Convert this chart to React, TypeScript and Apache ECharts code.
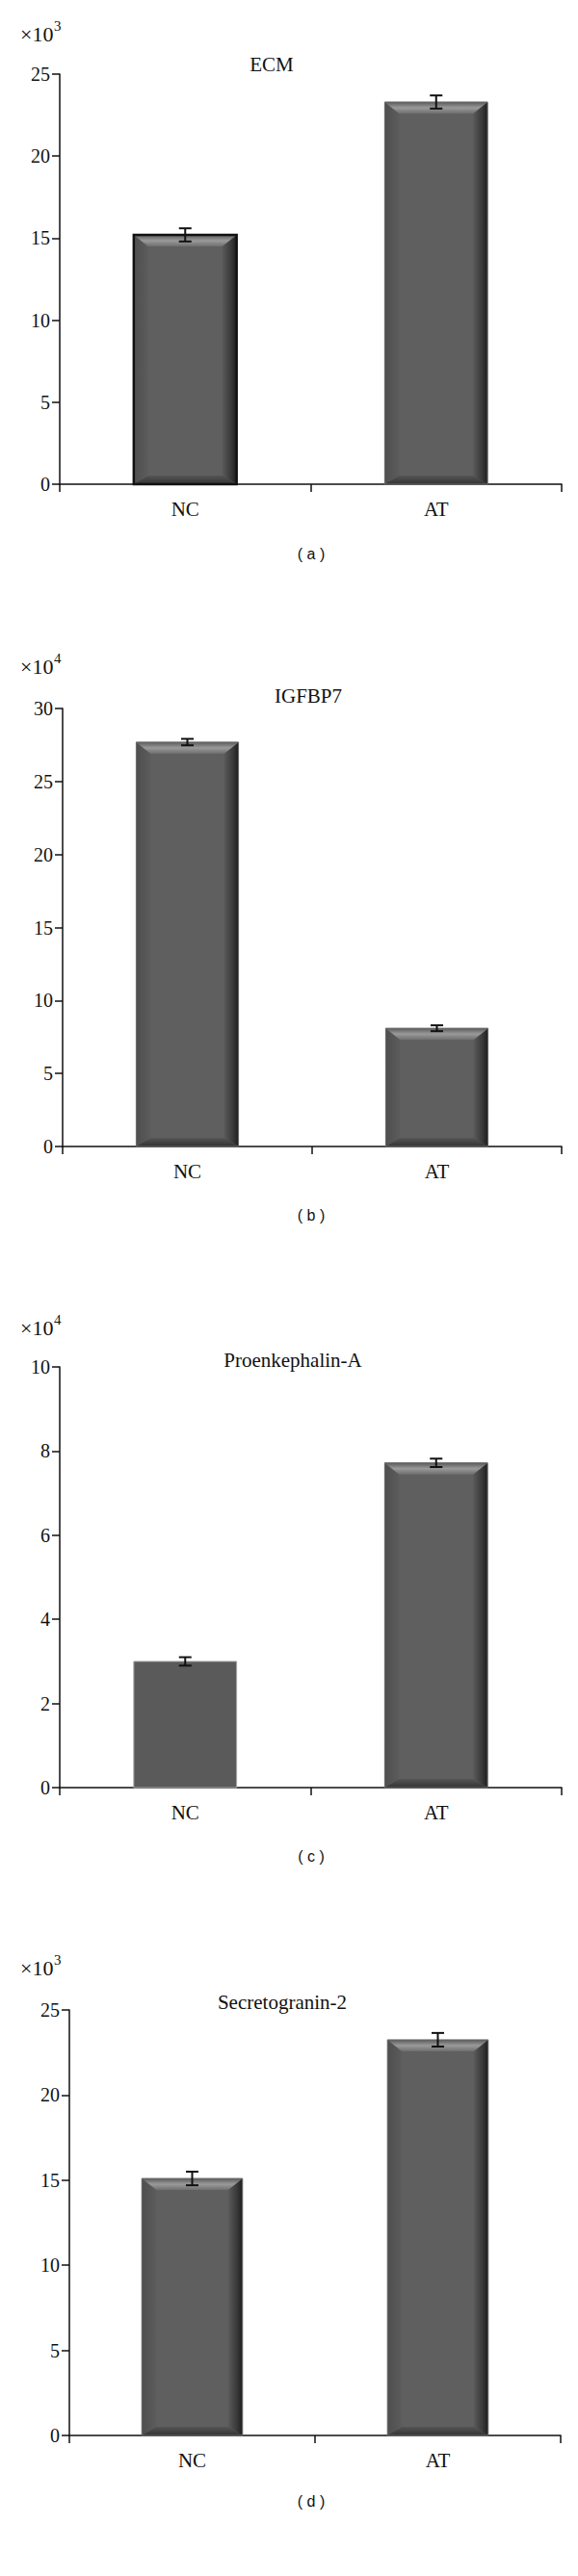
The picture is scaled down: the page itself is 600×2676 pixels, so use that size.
import React, { useEffect, useRef } from "react";
import * as echarts from "echarts";

const categories = ["NC", "AT"];

const ecmValues = [15.2, 23.3];
const ecmErrors = [0.4, 0.4];
const igfbp7Values = [27.7, 8.1];
const igfbp7Errors = [0.22, 0.2];
const penkValues = [3.0, 7.72];
const penkErrors = [0.1, 0.1];
const scg2Values = [15.1, 23.25];
const scg2Errors = [0.4, 0.4];

const titles = ["ECM", "IGFBP7", "Proenkephalin-A", "Secretogranin-2"];
const exponents = ["3", "4", "4", "3"];
const panelLetters = ["( a )", "( b )", "( c )", "( d )"];
const yMaxes = [25, 30, 10, 25];
const yIntervals = [5, 5, 2, 5];

// layout (px)
const grids = [
  { left: 62, top: 77, width: 521, height: 426 },
  { left: 65, top: 736, width: 518, height: 455 },
  { left: 62, top: 1420, width: 521, height: 437 },
  { left: 72, top: 2088, width: 510, height: 442 },
];
const titlePos = [
  [282, 67],
  [320, 723],
  [304, 1413],
  [293, 2080],
];
const expPos = [
  [21, 35],
  [21, 692],
  [21, 1379],
  [21, 2044],
];
const letterPos = [
  [323, 575],
  [323, 1262],
  [323, 1928],
  [323, 2598],
];
// bar style: "bevel-black" | "bevel" | "flat"
const barStyles = [
  ["bevel-black", "bevel"],
  ["bevel", "bevel"],
  ["flat", "bevel"],
  ["bevel", "bevel"],
];

const SERIF = "Liberation Serif";

const panels = [
  { values: ecmValues, errors: ecmErrors },
  { values: igfbp7Values, errors: igfbp7Errors },
  { values: penkValues, errors: penkErrors },
  { values: scg2Values, errors: scg2Errors },
];

function makeBarRenderer(styles: string[]) {
  return (params: any, api: any) => {
    const idx = api.value(0);
    const val = api.value(1);
    const top = api.coord([idx, val]);
    const base = api.coord([idx, 0]);
    const band = api.size([1, 0])[0];
    const w = band * 0.41;
    const x0 = top[0] - w / 2;
    const x1 = top[0] + w / 2;
    const y0 = top[1];
    const yb = base[1];
    const kind = styles[idx];
    if (kind === "flat") {
      return {
        type: "rect",
        shape: { x: x0, y: y0, width: w, height: yb - y0 },
        style: { fill: "#5a5a5a", stroke: "#a8a8a8", lineWidth: 1 },
      };
    }
    const inX = 15;
    const inTop = 12;
    const inBot = 9;
    const children: any[] = [
      {
        type: "rect",
        shape: { x: x0, y: y0, width: w, height: yb - y0 },
        style: { fill: "#5f5f5f" },
      },
      {
        type: "polygon",
        shape: {
          points: [
            [x0, y0],
            [x0 + inX, y0 + inTop],
            [x0 + inX, yb - inBot],
            [x0, yb],
          ],
        },
        style: {
          fill: new echarts.graphic.LinearGradient(0, 0, 1, 0, [
            { offset: 0, color: "#4e4e4e" },
            { offset: 1, color: "#5c5c5c" },
          ]),
        },
      },
      {
        type: "polygon",
        shape: {
          points: [
            [x1, y0],
            [x1 - inX, y0 + inTop],
            [x1 - inX, yb - inBot],
            [x1, yb],
          ],
        },
        style: {
          fill: new echarts.graphic.LinearGradient(0, 0, 1, 0, [
            { offset: 0, color: "#5a5a5a" },
            { offset: 0.6, color: "#3a3a3a" },
            { offset: 1, color: "#1e1e1e" },
          ]),
        },
      },
      {
        type: "polygon",
        shape: {
          points: [
            [x0, y0],
            [x1, y0],
            [x1 - inX, y0 + inTop],
            [x0 + inX, y0 + inTop],
          ],
        },
        style: {
          fill: new echarts.graphic.LinearGradient(0, 0, 0, 1, [
            { offset: 0, color: "#5a5a5a" },
            { offset: 0.5, color: "#9a9a9a" },
            { offset: 1, color: "#6e6e6e" },
          ]),
        },
      },
      {
        type: "polygon",
        shape: {
          points: [
            [x0, yb],
            [x1, yb],
            [x1 - inX, yb - inBot],
            [x0 + inX, yb - inBot],
          ],
        },
        style: {
          fill: new echarts.graphic.LinearGradient(0, 0, 0, 1, [
            { offset: 0, color: "#555555" },
            { offset: 1, color: "#333333" },
          ]),
        },
      },
      {
        type: "rect",
        shape: { x: x0, y: y0, width: w, height: yb - y0 },
        style:
          kind === "bevel-black"
            ? { fill: "none", stroke: "#111", lineWidth: 2.5 }
            : { fill: "none", stroke: "#6a6a6a", lineWidth: 1 },
      },
    ];
    return { type: "group", children };
  };
}

function renderError(params: any, api: any) {
  const idx = api.value(0);
  const val = api.value(1);
  const err = api.value(2);
  const hi = api.coord([idx, val + err]);
  const lo = api.coord([idx, val - err]);
  const cx = hi[0];
  const cap = 6.5;
  const st = { stroke: "#111", lineWidth: 2 };
  return {
    type: "group",
    children: [
      { type: "line", shape: { x1: cx, y1: hi[1], x2: cx, y2: lo[1] }, style: st },
      { type: "line", shape: { x1: cx - cap, y1: hi[1], x2: cx + cap, y2: hi[1] }, style: st },
      { type: "line", shape: { x1: cx - cap, y1: lo[1], x2: cx + cap, y2: lo[1] }, style: st },
    ],
  };
}

export default function App() {
  const ref = useRef<HTMLDivElement>(null);
  useEffect(() => {
    document.body.style.margin = "0";
    if (!ref.current) return;
    const chart = echarts.init(ref.current, null, { renderer: "svg" });

    const xAxis = grids.map((_, i) => ({
      type: "category",
      gridIndex: i,
      data: categories,
      boundaryGap: true,
      axisLine: { show: true, lineStyle: { color: "#111", width: 1.5 } },
      axisTick: { show: true, length: 8, interval: 0, lineStyle: { color: "#111", width: 1.5 } },
      axisLabel: { color: "#111", fontFamily: SERIF, fontSize: 21, margin: 15 },
      splitLine: { show: false },
    }));
    const yAxis = grids.map((_, i) => ({
      type: "value",
      gridIndex: i,
      min: 0,
      max: yMaxes[i],
      interval: yIntervals[i],
      axisLine: { show: true, lineStyle: { color: "#111", width: 1.5 } },
      axisTick: { show: true, length: 8, lineStyle: { color: "#111", width: 1.5 } },
      axisLabel: { color: "#111", fontFamily: SERIF, fontSize: 20, margin: 10 },
      splitLine: { show: false },
    }));

    const series: any[] = [];
    panels.forEach((p, i) => {
      series.push({
        type: "custom",
        xAxisIndex: i,
        yAxisIndex: i,
        renderItem: makeBarRenderer(barStyles[i]),
        encode: { x: 0, y: 1 },
        data: p.values.map((v, k) => [k, v]),
        z: 2,
      });
      series.push({
        type: "custom",
        xAxisIndex: i,
        yAxisIndex: i,
        renderItem: renderError,
        encode: { x: 0, y: 1 },
        data: p.values.map((v, k) => [k, v, p.errors[k]]),
        z: 5,
      });
    });

    const graphics: any[] = [];
    titles.forEach((t, i) => {
      graphics.push({
        type: "text",
        x: titlePos[i][0],
        y: titlePos[i][1],
        style: {
          text: t,
          font: `21px ${SERIF}`,
          fill: "#111",
          textAlign: "center",
          textVerticalAlign: "middle",
        },
      });
      graphics.push({
        type: "text",
        x: expPos[i][0],
        y: expPos[i][1],
        style: {
          text: "×10",
          font: `22px ${SERIF}`,
          fill: "#111",
          textAlign: "left",
          textVerticalAlign: "middle",
        },
      });
      graphics.push({
        type: "text",
        x: expPos[i][0] + 35,
        y: expPos[i][1] - 8,
        style: {
          text: exponents[i],
          font: `15px ${SERIF}`,
          fill: "#111",
          textAlign: "left",
          textVerticalAlign: "middle",
        },
      });
      graphics.push({
        type: "text",
        x: letterPos[i][0],
        y: letterPos[i][1],
        style: {
          text: panelLetters[i],
          font: `16px Liberation Sans`,
          fill: "#111",
          textAlign: "center",
          textVerticalAlign: "middle",
        },
      });
    });

    chart.setOption({
      animation: false,
      backgroundColor: "#ffffff",
      grid: grids.map((g) => ({ ...g, containLabel: false })),
      xAxis,
      yAxis,
      series,
      graphic: graphics,
    });
    return () => chart.dispose();
  }, []);
  return <div ref={ref} style={{ width: 600, height: 2676 }} />;
}
